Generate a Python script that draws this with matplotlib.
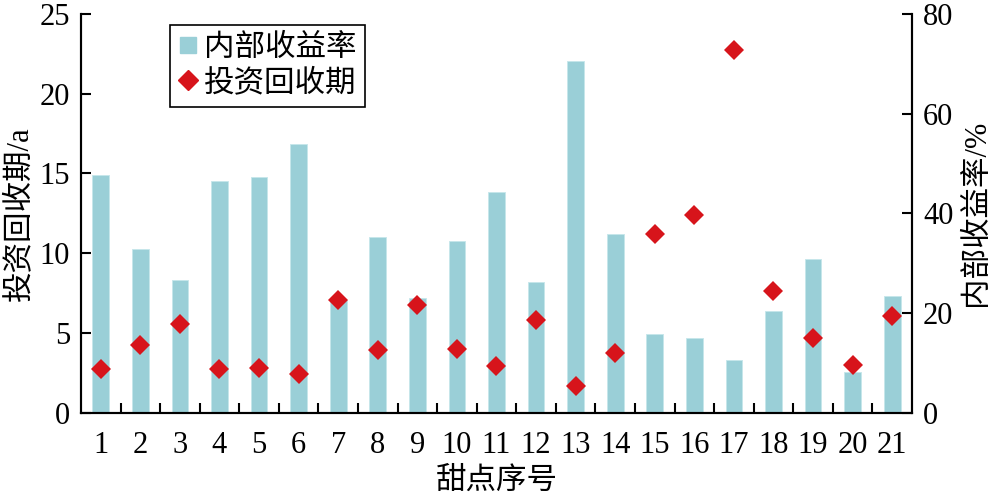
#!/usr/bin/env python3
import matplotlib
matplotlib.use("Agg")
import matplotlib.pyplot as plt
from matplotlib.lines import Line2D
from matplotlib.ticker import FixedLocator, NullFormatter

plt.rcParams["font.family"] = ["Liberation Serif", "Noto Sans CJK SC"]

# 甜点序号
points = list(range(1, 22))
# 内部收益率 (%), right axis
irr = [47.7, 32.9, 26.6, 46.5, 47.3, 53.8, 22.6, 35.2, 23.1, 34.4, 44.3,
       26.3, 70.5, 35.9, 15.8, 15.0, 10.6, 20.4, 30.8, 8.2, 23.5]
# 投资回收期 (a), left axis
payback = [2.74, 4.24, 5.57, 2.76, 2.80, 2.42, 7.06, 3.94, 6.76, 4.00, 2.94,
           5.80, 1.69, 3.78, 11.2, 12.4, 22.7, 7.66, 4.72, 3.00, 6.07]

bar_color = "#9ACFD7"
dot_color = "#D7141B"

fig = plt.figure(figsize=(10, 5.01), dpi=100)
ax = fig.add_axes([0.081, 0.1756, 0.831, 0.7971])
ax2 = ax.twinx()

ax2.bar(points, irr, width=0.42, color=bar_color, edgecolor="#C5E6EA", linewidth=0.6)
ax.plot(points, payback, linestyle="none", marker="D", markersize=10,
        color=dot_color, markeredgewidth=0)

ax.set_zorder(ax2.get_zorder() + 1)
ax.patch.set_visible(False)

ax.set_xlim(0.5, 21.5)
ax.set_ylim(0, 25)
ax2.set_ylim(0, 80)
ax.set_yticks([0, 5, 10, 15, 20, 25])
ax2.set_yticks([0, 20, 40, 60, 80])
ax.set_xticks(points)
ax.set_xticklabels([str(p) for p in points])
ax.xaxis.set_minor_locator(FixedLocator([p + 0.5 for p in points[:-1]]))
ax.xaxis.set_minor_formatter(NullFormatter())

for a in (ax, ax2):
    a.spines["top"].set_visible(False)
    for s in ("left", "right", "bottom"):
        a.spines[s].set_linewidth(1.5)

ax.tick_params(axis="x", which="major", length=0, pad=13, labelsize=22)
ax.tick_params(axis="x", which="minor", direction="in", length=7, width=1.5)
ax.tick_params(axis="y", direction="in", length=7, width=1.5, pad=8, labelsize=22)
ax2.tick_params(axis="y", direction="in", length=7, width=1.5, pad=8, labelsize=22)

ax.set_xlabel("甜点序号", fontsize=22, labelpad=5)
ax.set_ylabel("投资回收期/a", fontsize=22, labelpad=4)
ax2.set_ylabel("内部收益率/%", fontsize=22, labelpad=6)

handles = [
    Line2D([], [], linestyle="none", marker="s", markersize=11, color=bar_color),
    Line2D([], [], linestyle="none", marker="D", markersize=10, color=dot_color),
]
leg = ax.legend(handles, ["内部收益率", "投资回收期"], loc="upper left",
                bbox_to_anchor=(0.107, 0.972), borderaxespad=0, fontsize=22,
                handlelength=0.6, handletextpad=0.2, fancybox=False,
                framealpha=1, edgecolor="black", borderpad=0.3, labelspacing=0.2)
leg.get_frame().set_linewidth(1.2)

fig.savefig("out.png", dpi=100)
